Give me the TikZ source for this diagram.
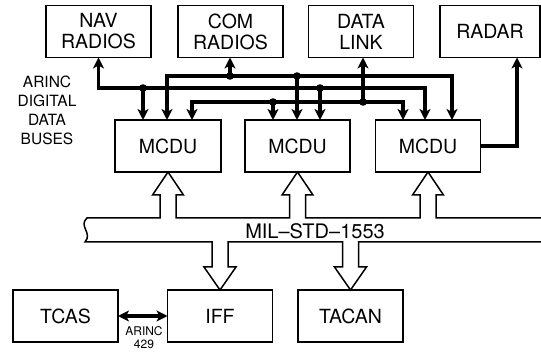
\documentclass[tikz,border=0pt]{standalone}
\usepackage{fontspec}
\setmainfont{TeX Gyre Heros}
\usetikzlibrary{arrows.meta,calc}

\begin{document}
\begin{tikzpicture}[x=1pt,y=-1pt,
  box/.style={draw,line width=1.3pt,minimum width=105pt,minimum height=52pt,inner sep=0pt,outer sep=0pt,align=center,font=\fontsize{19.5}{21}\selectfont},
  bus/.style={line width=3.1pt,>={Stealth[length=11pt,width=11pt,inset=3pt]}},
  wide/.style={line width=1.5pt,line join=miter}]
\useasboundingbox (0,0) rectangle (541,352);

\node[box] (nav) at (98.5,31.5) {NAV\\RADIOS};
\node[box] (com) at (230.5,31.5) {COM\\RADIOS};
\node[box] (dl) at (361,31.5) {DATA\\LINK};
\node[box,minimum width=100pt] (radar) at (490,31.5) {RADAR};
\node[box,minimum width=106pt] (m1) at (168,146) {MCDU};
\node[box] (m2) at (297.5,146) {MCDU};
\node[box] (m3) at (428,146) {MCDU};
\node[box] (tcas) at (65.5,316) {TCAS};
\node[box] (iff) at (220,316) {IFF};
\node[box] (tacan) at (350.5,316) {TACAN};

\node[align=center,font=\fontsize{15.5}{19}\selectfont] (buses) at (47,110) {ARINC\\DIGITAL\\DATA\\BUSES};
\node[font=\fontsize{20}{22}\selectfont] (mil) at (315,231) {MIL--STD--1553};
\node[anchor=north,inner sep=0pt,align=center,font=\fontsize{12}{12.5}\selectfont] (arinc) at (144,326.5) {ARINC\\429};

\coordinate (a1) at (143,88);
\coordinate (a2) at (320,88);
\coordinate (a3) at (425,88);
\coordinate (b0) at (167,76);
\coordinate (b1) at (230,76);
\coordinate (b2) at (297,76);
\coordinate (b3) at (452,76);
\coordinate (c0) at (192,102);
\coordinate (c1) at (273,102);
\coordinate (c2) at (363,102);
\coordinate (c3) at (403,102);

\draw[bus,<->] (nav.south) |- (a3) -- (a3 |- m3.north);
\draw[bus,->] (a1) -- (a1 |- m1.north);
\draw[bus,->] (a2) -- (a2 |- m2.north);
\draw[bus,<->] (b0 |- m1.north) -- (b0) -- (b3) -- (b3 |- m3.north);
\draw[bus,->] (b1) -- (b1 |- com.south);
\draw[bus,->] (b2) -- (b2 |- m2.north);
\draw[bus,<->] (c0 |- m1.north) -- (c0) -- (c3) -- (c3 |- m3.north);
\draw[bus,->] (c1) -- (c1 |- m2.north);
\draw[bus,->] (c2) -- (c2 |- dl.south);
\foreach \p in {a1,a2,b1,b2,c1,c2}
  \fill (\p) circle (3.8pt);

\draw[bus,->] (m3.east) -| ($(radar.south)+(27,0)$);
\draw[bus,<->] (tcas.east) -- (iff.west);

\draw[wide] (541,218)
  -- ($(m3.south)+(8,46)$) -- ++(0,-23) -- ++(7.5,0) -- (m3.south) -- ++(-15.5,23) -- ++(7.5,0) -- ++(0,23)
  -- ($(m2.south)+(8,46)$) -- ++(0,-23) -- ++(7.5,0) -- (m2.south) -- ++(-15.5,23) -- ++(7.5,0) -- ++(0,23)
  -- ($(m1.south)+(8,46)$) -- ++(0,-23) -- ++(7.5,0) -- (m1.south) -- ++(-15.5,23) -- ++(7.5,0) -- ++(0,23)
  -- (87,218) .. controls (78,226) and (93,233) .. (85,242)
  -- ($(iff.north)+(-8,-48)$) -- ++(0,25) -- ++(-8,0) -- (iff.north) -- ++(16,-23) -- ++(-8,0) -- ++(0,-25)
  -- ($(tacan.north)+(-8,-48)$) -- ++(0,25) -- ++(-8,0) -- (tacan.north) -- ++(16,-23) -- ++(-8,0) -- ++(0,-25)
  -- (541,242);
\end{tikzpicture}
\end{document}
